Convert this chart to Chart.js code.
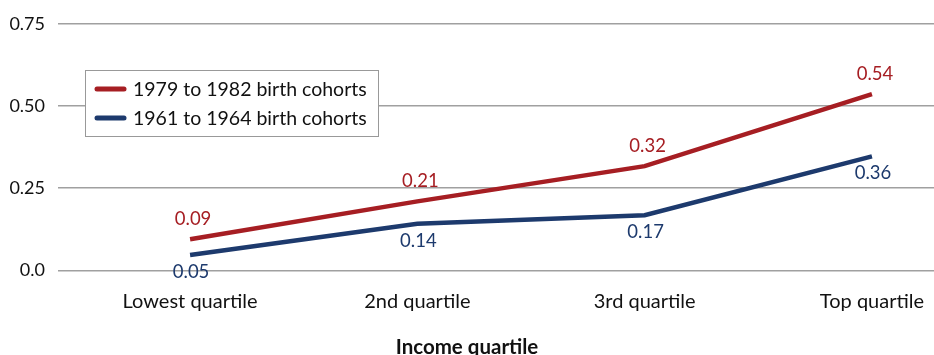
<!DOCTYPE html>
<html>
<head>
<meta charset="utf-8">
<script src="https://cdn.jsdelivr.net/npm/chart.js@4/dist/chart.umd.min.js"></script>
<style>
html,body{margin:0;padding:0;background:#fff;}
#wrap{width:934px;height:355px;position:relative;}
</style>
</head>
<body>
<div id="wrap"><canvas id="c" width="934" height="355"></canvas></div>
<script>
const categories = ["Lowest quartile", "2nd quartile", "3rd quartile", "Top quartile"];
const seriesNames = ["1979 to 1982 birth cohorts", "1961 to 1964 birth cohorts"];
const younger = [0.095, 0.21, 0.317, 0.536];
const older = [0.047, 0.142, 0.168, 0.347];
const youngerLabels = ["0.09", "0.21", "0.32", "0.54"];
const olderLabels = ["0.05", "0.14", "0.17", "0.36"];
const yTicks = [0, 0.25, 0.5, 0.75];
const yTickLabels = ["0.0", "0.25", "0.50", "0.75"];
const xTitle = "Income quartile";

const RED = "#a61e23";
const BLUE = "#1d3a6d";
const FONT = "Lato, 'Open Sans', sans-serif";

const toPoints = arr => arr.map((v, i) => ({x: i, y: v}));

const labelPlugin = {
  id: 'pointLabels',
  afterDatasetsDraw(chart) {
    const ctx = chart.ctx;
    ctx.save();
    ctx.font = "18.5px " + FONT;
    ctx.textAlign = 'center';
    ctx.textBaseline = 'middle';
    chart.data.datasets.forEach((ds, di) => {
      const meta = chart.getDatasetMeta(di);
      const labels = ds.pointText;
      ctx.fillStyle = ds.borderColor;
      meta.data.forEach((pt, i) => {
        const dy = ds.labelAbove ? -20 : 17;
        const dx = ds.labelAbove ? 3 : 1;
        ctx.fillText(labels[i], pt.x + dx, pt.y + dy);
      });
    });
    ctx.restore();
  }
};

const legendPlugin = {
  id: 'boxLegend',
  afterDraw(chart) {
    const ctx = chart.ctx;
    ctx.save();
    const bx = 85.5, by = 70.5, bw = 293, bh = 66;
    ctx.fillStyle = '#fff';
    ctx.fillRect(bx, by, bw, bh);
    ctx.strokeStyle = '#999';
    ctx.lineWidth = 1;
    ctx.strokeRect(bx, by, bw, bh);
    ctx.font = "19.5px " + FONT;
    ctx.textAlign = 'left';
    ctx.textBaseline = 'middle';
    chart.data.datasets.forEach((ds, i) => {
      const y = 89 + i * 29;
      ctx.strokeStyle = ds.borderColor;
      ctx.lineWidth = 5;
      ctx.lineCap = 'round';
      ctx.beginPath();
      ctx.moveTo(97, y);
      ctx.lineTo(124, y);
      ctx.stroke();
      ctx.fillStyle = '#111';
      ctx.fillText(ds.label, 133, y + 1);
    });
    ctx.restore();
  }
};

new Chart(document.getElementById('c'), {
  type: 'line',
  data: {
    datasets: [
      {label: seriesNames[0], data: toPoints(younger), pointText: youngerLabels, labelAbove: true,
       borderColor: RED, backgroundColor: RED, borderWidth: 4.5, pointRadius: 0, tension: 0},
      {label: seriesNames[1], data: toPoints(older), pointText: olderLabels, labelAbove: false,
       borderColor: BLUE, backgroundColor: BLUE, borderWidth: 4.5, pointRadius: 0, tension: 0}
    ]
  },
  options: {
    responsive: false,
    animation: false,
    layout: {padding: {top: 12, right: 0, left: 0, bottom: -5}},
    plugins: {
      legend: {display: false}, tooltip: {enabled: false},
      title: {display: true, position: 'bottom', text: xTitle,
              font: {family: FONT, size: 20.5, weight: 'bold'}, color: '#111',
              padding: {top: 3, bottom: 0}}
    },
    scales: {
      x: {
        type: 'linear',
        min: -0.581, max: 3.273,
        afterBuildTicks(scale) { scale.ticks = categories.map((c, i) => ({value: i})); },
        afterFit(scale) { scale.paddingLeft = 0; scale.paddingRight = 0; },
        ticks: {
          callback: (v) => categories[v],
          font: {family: FONT, size: 20}, color: '#111', padding: 19, maxRotation: 0, autoSkip: false
        },
        grid: {display: false, drawTicks: false},
        border: {display: false}
      },
      y: {
        min: 0, max: 0.75,
        afterBuildTicks(scale) { scale.ticks = yTicks.map(v => ({value: v})); },
        afterFit(scale) { scale.width = 58; },
        ticks: {
          callback: (v) => yTickLabels[yTicks.indexOf(v)],
          font: {family: FONT, size: 18}, color: '#111', padding: 13
        },
        grid: {color: '#a0a0a0', lineWidth: 1.5, drawTicks: false},
        border: {display: false}
      }
    }
  },
  plugins: [labelPlugin, legendPlugin]
});
</script>
</body>
</html>
